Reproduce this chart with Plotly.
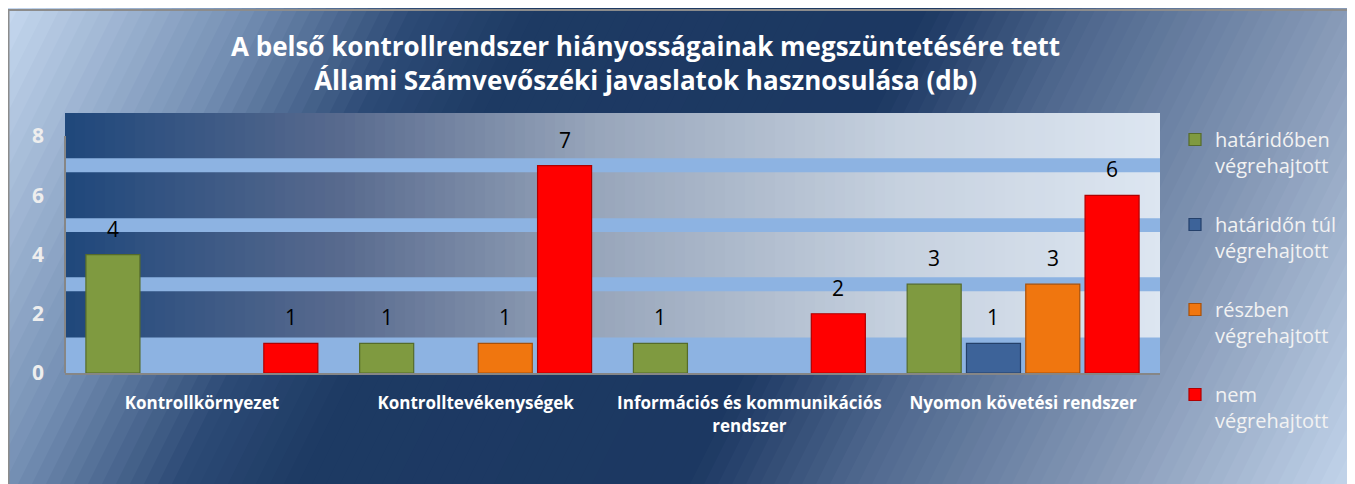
import plotly.graph_objects as go

# ---------------- data ----------------
categories = [
    "Kontrollkörnyezet",
    "Kontrolltevékenységek",
    "Információs és kommunikációs<br>rendszer",
    "Nyomon követési rendszer",
]
series_names = [
    "határidőben<br>végrehajtott",
    "határidőn túl<br>végrehajtott",
    "részben<br>végrehajtott",
    "nem<br>végrehajtott",
]
hataridoben = [4, 1, 1, 3]
hataridon_tul = [None, None, None, 1]
reszben = [None, 1, None, 3]
nem = [1, 7, 2, 6]
y_ticks = [0, 2, 4, 6, 8]
title_text = ("A belső kontrollrendszer hiányosságainak megszüntetésére tett<br>"
              "Állami Számvevőszéki javaslatok hasznosulása (db)")

series_values = [hataridoben, hataridon_tul, reszben, nem]

# ---------------- style ----------------
W, H = 1355, 484
OFF = 8  # page body margin
# plot area in screen pixels
SL, SR, ST, SB = 65, 1160, 113, 373
L, R, T, B = SL - OFF, SR - OFF, ST - OFF, SB - OFF
Y_MAX = 8.78
FONT = "Open Sans"
bar_colors = ["#7f9a40", "#3d6399", "#f0760f", "#ff0000"]
bar_lines = ["#556b2a", "#24406a", "#a8500a", "#b00000"]


def px(xs, ys):
    """screen pixel -> paper coordinates"""
    x, y = xs - OFF, ys - OFF
    return (x - L) / (R - L), (B - y) / (B - T)


def hex2rgb(h):
    h = h.lstrip("#")
    return tuple(int(h[i:i + 2], 16) for i in (0, 2, 4))


def interp(stops, t):
    for (t0, c0), (t1, c1) in zip(stops, stops[1:]):
        if t <= t1:
            f = 0 if t1 == t0 else max(0.0, min(1.0, (t - t0) / (t1 - t0)))
            a, b = hex2rgb(c0), hex2rgb(c1)
            return "rgb(%d,%d,%d)" % tuple(round(a[k] + (b[k] - a[k]) * f) for k in range(3))
    return "rgb(%d,%d,%d)" % hex2rgb(stops[-1][1])


shapes = []

# diagonal background gradient (t = x + 0.5*y, screen px)
bg_stops = [(0, "#cadcf2"), (250, "#7590b4"), (420, "#2c4a75"), (540, "#1d3a63"),
            (930, "#1c3862"), (1100, "#4f688e"), (1360, "#8a9dba"), (1600, "#c4d6ec")]
K = 0.5
step = 14
t = -20
while t < 1650:
    t0, t1 = t, t + step + 1
    c = interp(bg_stops, t + step / 2)
    pts = [px(t0, 0), px(t1, 0), px(t1 - K * (H + 20), H + 20), px(t0 - K * (H + 20), H + 20)]
    path = "M " + " L ".join("%.5f,%.5f" % p for p in pts) + " Z"
    shapes.append(dict(type="path", path=path, xref="paper", yref="paper",
                       fillcolor=c, line=dict(width=0), layer="below"))
    t += step

# plot-area horizontal gradient
pa_stops = [(65, "#1f477b"), (340, "#586a8e"), (600, "#98a6bb"), (900, "#c6d1df"), (1160, "#dde6f1")]
sx = SL
sw = 10
while sx < SR:
    x1 = min(sx + sw + 1, SR)
    c = interp(pa_stops, sx + sw / 2)
    shapes.append(dict(type="rect", xref="paper", yref="paper",
                       x0=px(sx, 0)[0], x1=px(x1, 0)[0], y0=0, y1=1,
                       fillcolor=c, line=dict(width=0), layer="below"))
    sx += sw

# light stripes in plot area
for y0, y1 in [(0, 1.2), (2.76, 3.23), (4.76, 5.23), (6.78, 7.25)]:
    shapes.append(dict(type="rect", xref="paper", yref="y", x0=0, x1=1, y0=y0, y1=y1,
                       fillcolor="#8db3e2", line=dict(width=0), layer="below"))

# y axis line
shapes.append(dict(type="line", xref="paper", yref="y", x0=0, x1=0, y0=0, y1=8,
                   line=dict(color="#868686", width=2), layer="below"))

# grey frame of the chart
fx0, fy0 = px(8.5, 10)
fx1, fy1 = px(W + OFF - 1, H + OFF - 1)
shapes.append(dict(type="rect", xref="paper", yref="paper",
                   x0=fx0, x1=fx1, y0=fy1, y1=fy0,
                   line=dict(color="#8c8c8c", width=2), fillcolor="rgba(0,0,0,0)",
                   layer="below"))

fig = go.Figure()
for i, (name, vals) in enumerate(zip(series_names, series_values)):
    fig.add_trace(go.Bar(
        x=categories, y=vals, name=name, legendgroup=str(i),
        marker=dict(color=bar_colors[i], line=dict(color=bar_lines[i], width=1.2)),
        hoverinfo="skip",
    ))

# data labels
BARGAP = 0.1335
slot = (R - L) / 4 * (1 - BARGAP) / 4
annotations = []
for i, vals in enumerate(series_values):
    for c, v in zip(categories, vals):
        if v is None:
            continue
        annotations.append(dict(x=c, y=v, xref="x", yref="y", text=str(v),
                                showarrow=False, yanchor="middle",
                                xshift=(i - 1.5) * slot, yshift=26,
                                font=dict(family=FONT, size=21, color="black")))

tx, ty = px(645, 63)
annotations.append(dict(x=tx, y=ty, xref="paper", yref="paper", text=title_text,
                        showarrow=False, xanchor="center", yanchor="middle",
                        font=dict(family=FONT, size=26, color="white", weight="bold")))

lx, ly = px(1175, 120)
fig.update_layout(
    width=W, height=H,
    margin=dict(l=L, r=W - R, t=T, b=H - B, pad=0),
    paper_bgcolor="rgba(0,0,0,0)", plot_bgcolor="rgba(0,0,0,0)",
    barmode="group", bargap=BARGAP, bargroupgap=0.089,
    shapes=shapes, annotations=annotations,
    showlegend=True,
    legend=dict(x=lx, y=ly, xanchor="left", yanchor="top", traceorder="grouped",
                tracegroupgap=30, valign="top", bgcolor="rgba(0,0,0,0)", maxheight=420,
                font=dict(family=FONT, size=20, color="#f2f2f2")),
    xaxis=dict(showgrid=False, zeroline=False, showline=True, linecolor="#868686",
               linewidth=2, ticks="", ticklabelstandoff=14,
               tickfont=dict(family=FONT, size=17, color="white", weight="bold")),
    yaxis=dict(range=[0, Y_MAX], tickvals=y_ticks, showgrid=False, zeroline=False,
               showline=False, ticks="", ticklabelstandoff=20,
               tickfont=dict(family=FONT, size=21, color="#eeeeee", weight="bold")),
    font=dict(family=FONT),
)

fig.write_html("out.html")
